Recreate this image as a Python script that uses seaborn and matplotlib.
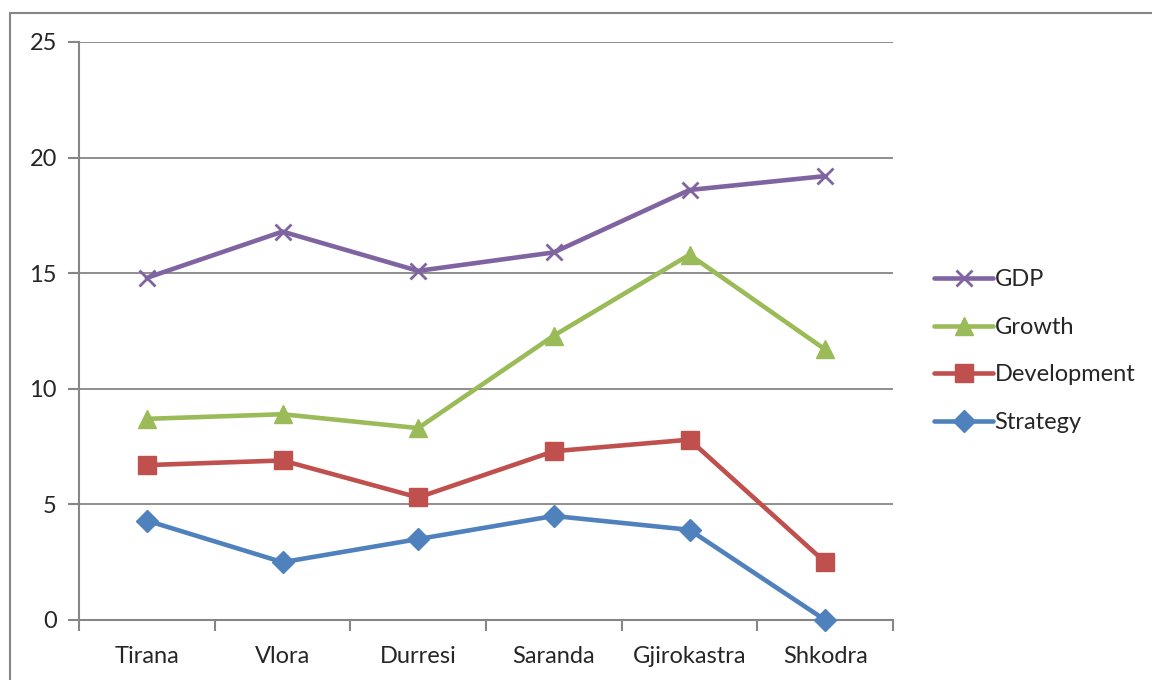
import matplotlib
matplotlib.use('Agg')
import matplotlib.pyplot as plt
from matplotlib.patches import Rectangle
import seaborn as sns
import pandas as pd

# Data
cities = ['Tirana', 'Vlora', 'Durresi', 'Saranda', 'Gjirokastra', 'Shkodra']
gdp = [14.8, 16.8, 15.1, 15.9, 18.6, 19.2]
growth = [8.7, 8.9, 8.3, 12.3, 15.8, 11.7]
development = [6.7, 6.9, 5.3, 7.3, 7.8, 2.5]
strategy = [4.3, 2.5, 3.5, 4.5, 3.9, 0.0]

series = {
    'Strategy': (strategy, '#4F81BD', 'D', 11),
    'Development': (development, '#C0504D', 's', 13),
    'Growth': (growth, '#9BBB59', '^', 13),
    'GDP': (gdp, '#8064A2', 'x', 11),
}

sns.set_style('white')
plt.rcParams['font.family'] = ['Lato', 'DejaVu Sans']
FS = 17

fig = plt.figure(figsize=(11.52, 6.8), dpi=100)
ax = fig.add_axes([79 / 1152, 60 / 680, 814 / 1152, 578 / 680])

# outer frame like the Excel chart area
fig.patches.append(Rectangle((10 / 1152, -0.1), 1.2, 0.1 + 667 / 680,
                             transform=fig.transFigure, fill=False,
                             edgecolor='#868686', linewidth=1.5, zorder=0))

x = list(range(len(cities)))
for name, (vals, color, mk, ms) in series.items():
    df = pd.DataFrame({'x': x, 'y': vals})
    sns.lineplot(data=df, x='x', y='y', ax=ax, color=color, linewidth=3.3,
                 marker=mk, markersize=ms, markeredgecolor=color,
                 markeredgewidth=2 if mk == 'x' else 1, label=name,
                 clip_on=False, zorder=3)

ax.set_xlim(-0.5, len(cities) - 0.5)
ax.set_ylim(0, 25)
ax.set_yticks([0, 5, 10, 15, 20, 25])
ax.set_xticks(x)
ax.set_xticklabels(cities)
ax.set_xticks([i - 0.5 for i in range(len(cities) + 1)], minor=True)
ax.set_xlabel('')
ax.set_ylabel('')

ax.yaxis.grid(True, color='#868686', linewidth=1.3)
ax.set_axisbelow(True)
for s in ['top', 'right']:
    ax.spines[s].set_visible(False)
for s in ['left', 'bottom']:
    ax.spines[s].set_color('#868686')
    ax.spines[s].set_linewidth(1.5)

ax.tick_params(axis='y', which='major', left=True, length=8, width=1.5,
               color='#868686', labelsize=FS, pad=8)
ax.tick_params(axis='x', which='major', bottom=False, length=0,
               labelsize=FS, pad=19)
ax.tick_params(axis='x', which='minor', bottom=True, length=8, width=1.5,
               color='#868686')

h, l = ax.get_legend_handles_labels()
order = ['GDP', 'Growth', 'Development', 'Strategy']
hd = dict(zip(l, h))
ax.get_legend().remove()
fig.legend([hd[k] for k in order], order, loc='upper left',
           bbox_to_anchor=(925 / 1152, 1 - 260 / 680), frameon=False,
           fontsize=FS, handlelength=2.5, handletextpad=0.05,
           labelspacing=1.12, borderaxespad=0)

fig.savefig('out.png', dpi=100)
